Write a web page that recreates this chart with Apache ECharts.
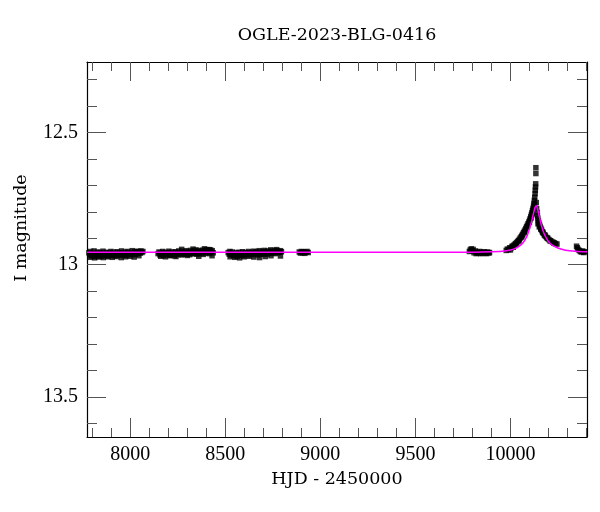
<!DOCTYPE html>
<html><head><meta charset="utf-8">
<script src="https://cdn.jsdelivr.net/npm/echarts@6/dist/echarts.min.js"></script>
<style>html,body{margin:0;padding:0;background:#fff}#c{width:600px;height:512px}</style>
</head><body><div id="c"></div>
<script>
// ---- tick values ----
const xMajorTicks = [8000, 8500, 9000, 9500, 10000];
const xMinorTicks = [7800, 7900, 8100, 8200, 8300, 8400, 8600, 8700, 8800, 8900, 9100, 9200, 9300, 9400, 9600, 9700, 9800, 9900, 10100, 10200, 10300, 10400];
const yMajorTicks = [12.5, 13, 13.5];
const yMinorTicks = [12.3, 12.4, 12.6, 12.7, 12.8, 12.9, 13.1, 13.2, 13.3, 13.4, 13.6];

// ---- observations (HJD-2450000, I mag) ----
const s1t = [7782,7786,7791,7795,7800,7804,7809,7814,7818,7823,7828,7832,7837,7842,7846,7851,7856,7860,7865,7870,7874,7879,7884,7888,7893,7898,7902,7907,7912,7916,7921,7926,7930,7935,7940,7944,7949,7954,7958,7963,7968,7972,7977,7982,7986,7991,7996,8000,8005,8010,8014,8019,8024,8028,8033,8038,8042,8047,8052,8056,8061,8066];
const s1m = [12.955,12.962,12.950,12.967,12.958,12.963,12.948,12.969,12.957,12.961,12.952,12.966,12.959,12.954,12.968,12.960,12.949,12.963,12.957,12.965,12.953,12.960,12.967,12.955,12.961,12.950,12.964,12.958,12.953,12.966,12.959,12.962,12.951,12.957,12.964,12.955,12.960,12.948,12.962,12.956,12.965,12.952,12.958,12.963,12.950,12.957,12.961,12.954,12.959,12.947,12.962,12.956,12.951,12.960,12.953,12.949,12.958,12.952,12.956,12.948,12.954,12.950];

const s2t = [8146,8151,8156,8160,8165,8170,8175,8179,8184,8189,8194,8198,8203,8208,8213,8217,8222,8227,8232,8236,8241,8246,8251,8255,8260,8265,8270,8274,8279,8284,8289,8293,8298,8303,8308,8312,8317,8322,8327,8331,8336,8341,8346,8350,8355,8360,8365,8369,8374,8379,8384,8388,8393,8398,8403,8407,8412,8417,8422,8426,8431,8436];
const s2m = [12.958,12.952,12.963,12.956,12.960,12.950,12.965,12.957,12.953,12.962,12.955,12.960,12.949,12.964,12.957,12.952,12.961,12.956,12.966,12.951,12.958,12.954,12.962,12.948,12.959,12.955,12.963,12.950,12.957,12.961,12.953,12.947,12.960,12.955,12.951,12.962,12.946,12.957,12.953,12.959,12.949,12.956,12.944,12.960,12.952,12.947,12.958,12.950,12.955,12.945,12.961,12.951,12.946,12.957,12.943,12.953,12.949,12.958,12.944,12.952,12.947,12.955];

const s3t = [8515,8520,8524,8529,8534,8538,8543,8548,8552,8557,8562,8566,8571,8576,8580,8585,8590,8594,8599,8604,8608,8613,8618,8622,8627,8632,8636,8641,8646,8650,8655,8660,8664,8669,8674,8678,8683,8688,8692,8697,8702,8706,8711,8716,8720,8725,8730,8734,8739,8744,8748,8753,8758,8762,8767,8772,8776,8781,8786,8790,8795];
const s3m = [12.954,12.960,12.950,12.963,12.957,12.952,12.966,12.958,12.961,12.955,12.968,12.959,12.953,12.964,12.957,12.962,12.951,12.966,12.958,12.954,12.961,12.956,12.963,12.950,12.959,12.955,12.962,12.953,12.958,12.949,12.960,12.955,12.951,12.963,12.957,12.947,12.959,12.954,12.961,12.950,12.956,12.946,12.958,12.952,12.960,12.948,12.955,12.951,12.944,12.957,12.950,12.954,12.946,12.958,12.952,12.948,12.955,12.950,12.953,12.947,12.951];

const s4t = [8889,8895,8900,8906,8912,8918,8924,8930,8936];
const s4m = [12.952,12.956,12.950,12.955,12.951,12.957,12.953,12.950,12.954];

const s5t = [9784,9789,9794,9799,9804,9809,9815,9820,9826,9832,9838,9844,9850,9856,9862,9868,9874,9880,9886,9890];
const s5m = [12.950,12.944,12.940,12.947,12.942,12.955,12.948,12.958,12.952,12.956,12.950,12.958,12.953,12.957,12.951,12.955,12.958,12.952,12.956,12.954];

// extra baseline points (second exposures on the same nights)
const sxT = [7790,7812,7835,7858,7880,7905,7928,7952,7975,7998,8020,8045,8160,8185,8210,8240,8270,8300,8330,8360,8390,8415,8430,8525,8550,8575,8600,8625,8650,8680,8710,8740,8770,8790];
const sxM = [12.972,12.974,12.971,12.973,12.970,12.972,12.969,12.973,12.970,12.968,12.971,12.966,12.968,12.970,12.966,12.969,12.942,12.965,12.941,12.968,12.940,12.943,12.966,12.970,12.972,12.974,12.970,12.968,12.971,12.973,12.969,12.966,12.943,12.967];

const s6t = [9978,9984,9990,9996,10002,10008,10014,10020,10026,10032,10037,10042,10047,10052,10057,10061,10065,10069,10073,10077,10081,10085,10089,10093,10097,10101,10104,10107,10110,10113,10116,10119,10122,10124,10126,10128,10130,10131,10132,10133,10134,10134,10136,10138,10140,10142,10144,10147,10150,10153,10156,10160,10164,10168,10173,10178,10184,10190,10196,10203,10210,10217,10224,10231,10238,10245];
const s6m = [12.946,12.941,12.943,12.936,12.938,12.931,12.929,12.925,12.921,12.917,12.913,12.909,12.904,12.899,12.894,12.889,12.885,12.879,12.874,12.869,12.863,12.857,12.851,12.845,12.839,12.832,12.826,12.819,12.812,12.804,12.796,12.787,12.778,12.768,12.757,12.745,12.731,12.718,12.706,12.694,12.655,12.633,12.765,12.788,12.802,12.814,12.824,12.834,12.842,12.849,12.855,12.862,12.869,12.875,12.881,12.887,12.892,12.897,12.901,12.905,12.909,12.912,12.915,12.918,12.920,12.922];

const s6xT = [10000,10015,10030,10045,10060,10075,10090,10100,10108,10115,10121,10127,10145,10152,10160,10170,10182,10195,10210,10230];
const s6xM = [12.944,12.934,12.922,12.910,12.895,12.878,12.856,12.840,12.824,12.808,12.792,12.772,12.845,12.857,12.866,12.877,12.888,12.899,12.910,12.919];

const s7t = [10348,10352,10356,10362,10368,10374,10380,10386,10391];
const s7m = [12.930,12.936,12.942,12.946,12.950,12.952,12.948,12.954,12.951];

// ---- model curve ----
const modelT = [7772,9700,9900,9980,10020,10050,10070,10085,10095,10105,10112,10118,10123,10127,10131,10135,10139,10143,10148,10154,10160,10168,10176,10186,10200,10220,10250,10290,10340,10403];
const modelM = [12.953,12.953,12.951,12.947,12.940,12.928,12.913,12.895,12.876,12.853,12.834,12.816,12.801,12.790,12.781,12.777,12.780,12.789,12.804,12.824,12.843,12.864,12.880,12.896,12.912,12.926,12.937,12.945,12.949,12.951];

const X_MIN = 7772, X_MAX = 10403, Y_MIN = 12.233, Y_MAX = 13.652;

function zip(t, m){ const o=[]; for(let i=0;i<Math.min(t.length,m.length);i++) o.push([t[i], m[i]]); return o; }
const obs = [].concat(zip(s1t,s1m), zip(s2t,s2m), zip(s3t,s3m), zip(s4t,s4m), zip(s5t,s5m), zip(sxT,sxM), zip(s6t,s6m), zip(s6xT,s6xM), zip(s7t,s7m));
const model = zip(modelT, modelM);

const tickFont = {fontFamily: 'Liberation Serif', fontSize: 20, color: '#000'};

function xAx(pos, ticks, len, labels, line){
  return {type:'value', gridIndex:0, position:pos, min:X_MIN, max:X_MAX,
    axisLine:{show:line, onZero:false, lineStyle:{color:'#000', width:1.2}},
    axisTick:{show:true, inside:true, length:len, customValues:ticks, lineStyle:{color:'#555', width:1}},
    axisLabel:Object.assign({show:labels, customValues:xMajorTicks, margin:8, formatter:function(v){return String(v);}}, tickFont),
    splitLine:{show:false}};
}
function yAx(pos, ticks, len, labels, line){
  return {type:'value', gridIndex:0, position:pos, min:Y_MIN, max:Y_MAX, inverse:true,
    axisLine:{show:line, onZero:false, lineStyle:{color:'#000', width:1.2}},
    axisTick:{show:true, inside:true, length:len, customValues:ticks, lineStyle:{color:'#555', width:1}},
    axisLabel:Object.assign({show:labels, customValues:yMajorTicks, margin:9, formatter:function(v){return String(v);}}, tickFont),
    splitLine:{show:false}};
}

const chart = echarts.init(document.getElementById('c'), null, {renderer:'canvas'});
chart.setOption({
  animation:false,
  backgroundColor:'#fff',
  grid:{left:87, right:13, top:62, bottom:75, containLabel:false},
  xAxis:[
    xAx('bottom', xMajorTicks, 19, true, true),
    xAx('bottom', xMinorTicks, 9, false, false),
    xAx('top', xMajorTicks, 19, false, true),
    xAx('top', xMinorTicks, 9, false, false)
  ],
  yAxis:[
    yAx('left', yMajorTicks, 19, true, true),
    yAx('left', yMinorTicks, 10, false, false),
    yAx('right', yMajorTicks, 19, false, true),
    yAx('right', yMinorTicks, 10, false, false)
  ],
  graphic:[
    {type:'text', x:337, y:35, style:{text:'OGLE-2023-BLG-0416', font:'17.5px "DejaVu Serif"', fill:'#000', textAlign:'center', textVerticalAlign:'middle'}},
    {type:'text', x:337, y:479, style:{text:'HJD - 2450000', font:'17.5px "DejaVu Serif"', fill:'#000', textAlign:'center', textVerticalAlign:'middle'}},
    {type:'text', x:21, y:228, rotation:Math.PI/2, style:{text:'I magnitude', font:'17.5px "DejaVu Serif"', fill:'#000', textAlign:'center', textVerticalAlign:'middle'}}
  ],
  series:[
    {type:'scatter', xAxisIndex:0, yAxisIndex:0, data:obs, symbol:'rect', symbolSize:5.5,
      itemStyle:{color:'#000'}, z:2, silent:true},
    {type:'line', xAxisIndex:0, yAxisIndex:0, data:model, showSymbol:false, smooth:0.3,
      lineStyle:{color:'#ff00ff', width:1.5}, z:3, silent:true}
  ]
});
</script>
</body></html>
